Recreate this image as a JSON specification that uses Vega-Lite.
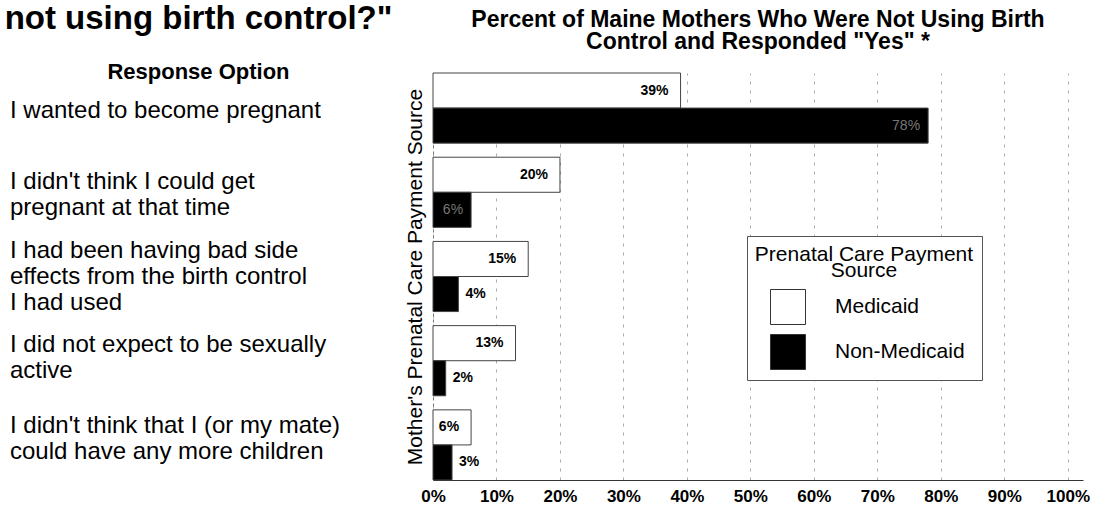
{
  "$schema": "https://vega.github.io/schema/vega-lite/v6.json",
  "background": "white",
  "padding": {"left": 0, "top": 3, "right": 4, "bottom": 2},
  "config": {
    "font": "Liberation Sans",
    "view": {"stroke": null},
    "concat": {"spacing": 7}
  },
  "datasets": {
    "options": [
      {"option": "I wanted to become pregnant"},
      {"option": "I didn't think I could get\npregnant at that time"},
      {"option": "I had been having bad side\neffects from the birth control\nI had used"},
      {"option": "I did not expect to be sexually\nactive"},
      {"option": "I didn't think that I (or my mate)\ncould have any more children"}
    ],
    "bars": [
      {"option": "I wanted to become pregnant", "source": "Medicaid", "percent": 0.39},
      {"option": "I wanted to become pregnant", "source": "Non-Medicaid", "percent": 0.78},
      {"option": "I didn't think I could get\npregnant at that time", "source": "Medicaid", "percent": 0.20},
      {"option": "I didn't think I could get\npregnant at that time", "source": "Non-Medicaid", "percent": 0.06},
      {"option": "I had been having bad side\neffects from the birth control\nI had used", "source": "Medicaid", "percent": 0.15},
      {"option": "I had been having bad side\neffects from the birth control\nI had used", "source": "Non-Medicaid", "percent": 0.04},
      {"option": "I did not expect to be sexually\nactive", "source": "Medicaid", "percent": 0.13},
      {"option": "I did not expect to be sexually\nactive", "source": "Non-Medicaid", "percent": 0.02},
      {"option": "I didn't think that I (or my mate)\ncould have any more children", "source": "Medicaid", "percent": 0.06},
      {"option": "I didn't think that I (or my mate)\ncould have any more children", "source": "Non-Medicaid", "percent": 0.03}
    ]
  },
  "hconcat": [
    {
      "width": 397,
      "height": 407,
      "data": {"name": "options"},
      "title": {
        "text": "not using birth control?\"",
        "subtitle": "Response Option",
        "anchor": "middle",
        "fontSize": 33,
        "fontWeight": "bold",
        "color": "black",
        "subtitleFontSize": 22,
        "subtitleFontWeight": "bold",
        "subtitleColor": "black",
        "subtitlePadding": 26,
        "offset": -10
      },
      "encoding": {
        "y": {
          "field": "option", "type": "nominal",
          "sort": ["I wanted to become pregnant", "I didn't think I could get\npregnant at that time", "I had been having bad side\neffects from the birth control\nI had used", "I did not expect to be sexually\nactive", "I didn't think that I (or my mate)\ncould have any more children"],
          "scale": {"paddingInner": 0.167, "paddingOuter": 0}, "axis": null
        },
        "x": {"datum": 0, "type": "quantitative", "scale": {"domain": [0, 1]}, "axis": null},
        "text": {"field": "option"}
      },
      "layer": [
        {
          "transform": [{"filter": "length(split(datum.option, '\\n')) == 1"}],
          "mark": {"type": "text", "align": "left", "baseline": "middle", "fontSize": 24, "lineHeight": 26, "dx": 10, "dy": -3, "lineBreak": "\n", "color": "black"}
        },
        {
          "transform": [{"filter": "length(split(datum.option, '\\n')) == 2"}],
          "mark": {"type": "text", "align": "left", "baseline": "middle", "fontSize": 24, "lineHeight": 26, "dx": 10, "dy": -13, "lineBreak": "\n", "color": "black"}
        },
        {
          "transform": [{"filter": "length(split(datum.option, '\\n')) == 3"}],
          "mark": {"type": "text", "align": "left", "baseline": "middle", "fontSize": 24, "lineHeight": 26, "dx": 10, "dy": -26, "lineBreak": "\n", "color": "black"}
        }
      ]
    },
    {
      "width": 650,
      "height": 407,
      "data": {"name": "bars"},
      "title": {
        "text": ["Percent of Maine Mothers Who Were Not Using Birth", "Control and Responded \"Yes\" *"],
        "anchor": "middle",
        "fontSize": 23,
        "fontWeight": "bold",
        "lineHeight": 22,
        "color": "black",
        "offset": 19
      },
      "encoding": {
        "y": {
          "field": "option", "type": "nominal",
          "sort": ["I wanted to become pregnant", "I didn't think I could get\npregnant at that time", "I had been having bad side\neffects from the birth control\nI had used", "I did not expect to be sexually\nactive", "I didn't think that I (or my mate)\ncould have any more children"],
          "scale": {"paddingInner": 0.167, "paddingOuter": 0},
          "axis": {"labels": false, "ticks": false, "domain": true, "domainColor": "#777", "domainDash": [3, 3],
                   "title": "Mother's Prenatal Care Payment Source", "titleFontSize": 21, "titleFontWeight": "normal", "titleColor": "black", "titlePadding": 8}
        },
        "yOffset": {"field": "source", "type": "nominal", "sort": ["Medicaid", "Non-Medicaid"], "scale": {"paddingInner": 0, "paddingOuter": 0}},
        "x": {
          "field": "percent", "type": "quantitative",
          "scale": {"domain": [0, 1.024], "nice": false, "zero": true},
          "axis": {"values": [0, 0.1, 0.2, 0.3, 0.4, 0.5, 0.6, 0.7, 0.8, 0.9, 1.0], "format": ".0%", "title": null,
                   "labelFontSize": 17, "labelFontWeight": "bold", "labelColor": "black", "labelPadding": 8, "labelFlush": false,
                   "ticks": false, "domainColor": "#333", "grid": true, "gridDash": [3, 6], "gridColor": "#999", "gridOpacity": 0.8}
        }
      },
      "layer": [
        {
          "mark": {"type": "bar", "stroke": "#444", "strokeWidth": 1},
          "encoding": {
            "fill": {
              "field": "source", "type": "nominal",
              "scale": {"domain": ["Medicaid", "Non-Medicaid"], "range": ["white", "black"]},
              "legend": {
                "orient": "none", "legendX": 747, "legendY": 163,
                "title": ["Prenatal Care Payment", "Source"],
                "titleFontSize": 21, "titleFontWeight": "normal", "titleColor": "black", "titleLimit": 400,
                "titleAnchor": "middle", "titleAlign": "center", "titleLineHeight": 16, "titlePadding": 8,
                "labelFontSize": 21, "labelColor": "black", "labelOffset": 29, "labelLimit": 300,
                "symbolType": "square", "symbolSize": 1225, "symbolStrokeColor": "#333", "symbolStrokeWidth": 1, "symbolOffset": 7,
                "rowPadding": 5, "padding": 8, "strokeColor": "#555", "fillColor": "white"
              }
            }
          }
        },
        {
          "transform": [{"filter": "datum.source === 'Medicaid'"}],
          "mark": {"type": "text", "align": "right", "baseline": "middle", "dx": -12, "fontSize": 14, "fontWeight": "bold", "color": "black"},
          "encoding": {"text": {"field": "percent", "type": "quantitative", "format": ".0%"}}
        },
        {
          "transform": [{"filter": "datum.source === 'Non-Medicaid' && datum.percent >= 0.05"}],
          "mark": {"type": "text", "align": "right", "baseline": "middle", "dx": -8, "fontSize": 14, "color": "#777"},
          "encoding": {"text": {"field": "percent", "type": "quantitative", "format": ".0%"}}
        },
        {
          "transform": [{"filter": "datum.source === 'Non-Medicaid' && datum.percent < 0.05"}],
          "mark": {"type": "text", "align": "left", "baseline": "middle", "dx": 7, "fontSize": 14, "fontWeight": "bold", "color": "black"},
          "encoding": {"text": {"field": "percent", "type": "quantitative", "format": ".0%"}}
        }
      ]
    }
  ]
}
